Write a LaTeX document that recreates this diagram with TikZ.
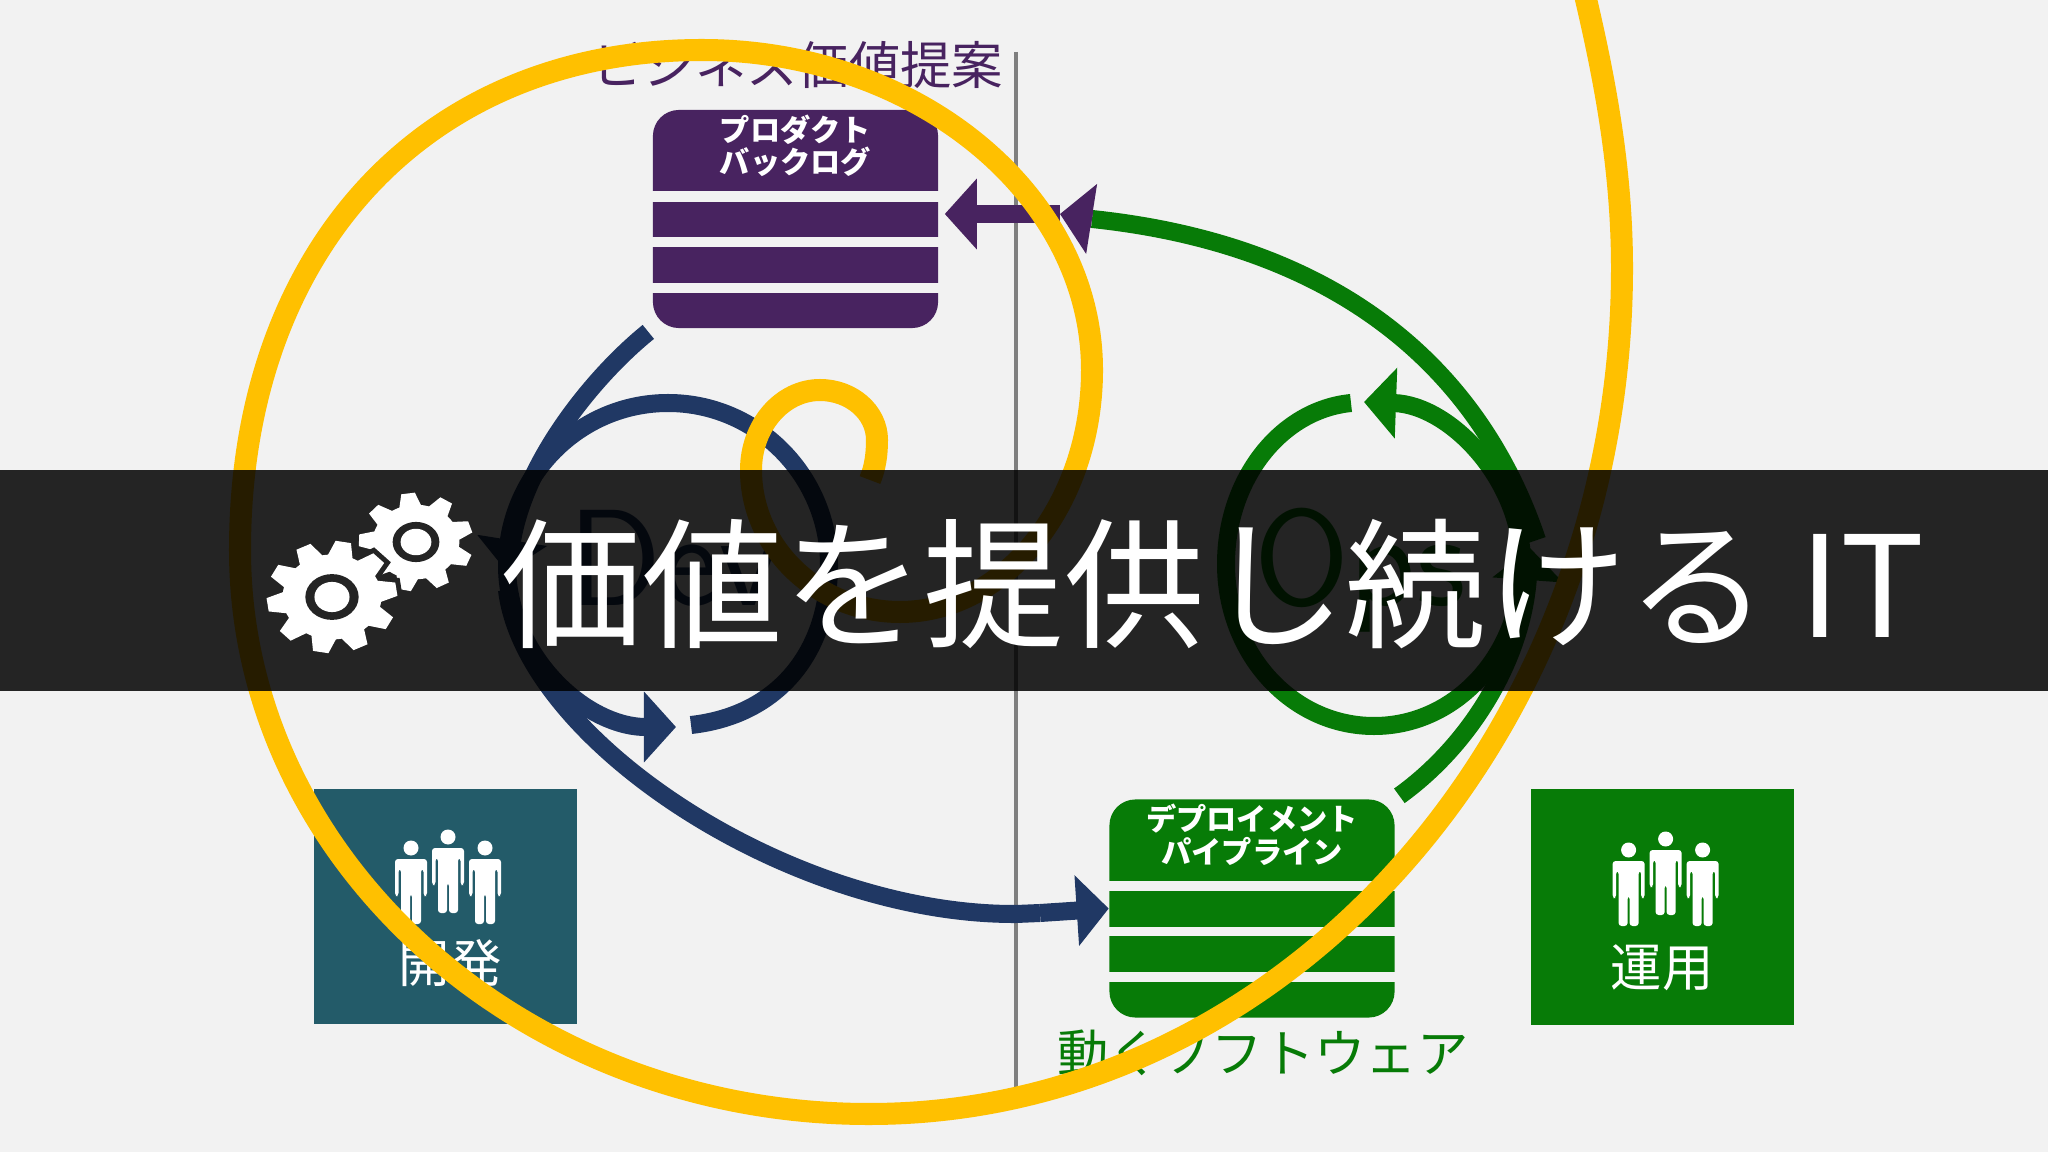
\documentclass[tikz,border=0pt]{standalone}
\usepackage{fontspec}
\setmainfont{Noto Sans CJK JP}
\usetikzlibrary{positioning}
\usetikzlibrary{arrows.meta}
\definecolor{canvasgray}{HTML}{F2F2F2}
\definecolor{bandgray}{HTML}{242424}
\definecolor{axisgray}{HTML}{7F7F7F}
\definecolor{valuepurple}{HTML}{482360}
\definecolor{devnavy}{HTML}{203864}
\definecolor{opsgreen}{HTML}{077B07}
\definecolor{devteal}{HTML}{235B69}
\definecolor{spiralyellow}{HTML}{FFC000}
\tikzset{
    x=0.01cm,
    y=-0.01cm,
    stackbox/.style={
        rectangle,
        rounded corners=0.26cm,
        minimum width=2.85cm,
        minimum height=2.18cm,
        inner sep=0pt
    },
    teambox/.style={
        rectangle,
        minimum width=2.63cm,
        minimum height=2.35cm,
        inner sep=0pt
    },
    stacktitle/.style={
        text=white,
        align=center,
        inner sep=0pt,
        font=\fontsize{8.6}{9.2}\selectfont\bfseries
    },
    biglabel/.style={
        inner sep=0pt,
        font=\fontsize{14.6}{16}\selectfont
    },
    hiddenword/.style={
        inner sep=0pt,
        anchor=base west,
        font=\fontsize{39}{42}\selectfont\sffamily
    },
    flow/.style={
        line width=0.18cm
    },
    flowhead/.style={
        flow,
        -{Triangle[length=0.32cm,width=0.69cm]}
    },
    pics/staff/.style={
        code={
            \fill[white] (0,0) circle (7.5);
            \fill[white, rounded corners=0.03cm] (-16,11) -- (16,11) -- (16,48) -- (12.5,48) -- (12.5,21)
                -- (10,21) -- (10,76) -- (1,76) -- (1,46) -- (-1,46) -- (-1,76) -- (-10,76) -- (-10,21)
                -- (-12.5,21) -- (-12.5,48) -- (-16,48) -- cycle;
        }
    }
}
\newcommand{\cogshape}[5]{
    \begin{scope}[shift={#1}, yscale=0.86, rotate=#4]
        \foreach \toothno in {1,...,#3} {
            \path[#5, rotate=\toothno*360/#3] (-0.2*#2,-0.7*#2) -- (-0.12*#2,-#2) -- (0.12*#2,-#2)
                -- (0.2*#2,-0.7*#2) -- cycle;
        }
        \path[#5] (0,0) circle (0.76*#2);
    \end{scope}
}
\newcommand{\cogwheel}[4]{
    \cogshape{#1}{#2}{#3}{#4}{draw=bandgray, line width=0.1cm}
    \cogshape{#1}{#2}{#3}{#4}{fill=white}
    \begin{scope}[shift={#1}, yscale=0.86]
        \fill[bandgray] (0,0) circle (0.41*#2);
        \fill[white] (0,0) circle (0.27*#2);
    \end{scope}
}

\begin{document}
\begin{tikzpicture}
    \path[use as bounding box, clip] (0,0) rectangle (2048,1152);
    \fill[canvasgray] (0,0) rectangle (2048,1152);

    \coordinate (axistop) at (1016,52);
    \coordinate (axisbottom) at (1016,1090);
    \draw[axisgray, line width=0.035cm] (axistop) -- (axisbottom);

    \node[stackbox, fill=valuepurple] (backlog) at (795.5,219) {};
    \node[stackbox, fill=opsgreen] (pipeline) at (1252,908.5) {};
    \foreach \gaptop/\gapbottom in {191/202,237/247,283/293} {
        \fill[canvasgray] (650,\gaptop) rectangle (941,\gapbottom);
    }
    \foreach \gaptop/\gapbottom in {881/891,927/936,972/982} {
        \fill[canvasgray] (1107,\gaptop) rectangle (1397,\gapbottom);
    }
    \node[stacktitle, below=0.05cm of backlog.north] (backlogtitle) {プロダクト\\バックログ};
    \node[stacktitle, below=0.05cm of pipeline.north] (pipelinetitle) {デプロイメント\\パイプライン};
    \node[biglabel, text=valuepurple, anchor=east] (valuelabel) at (1004,65) {ビジネス価値提案};
    \node[biglabel, text=opsgreen] (softwarelabel) at (1263,1053) {動くソフトウェア};

    \node[teambox, fill=devteal] (devteam) at (445.5,906.5) {};
    \node[teambox, fill=opsgreen] (opsteam) at (1662.5,907) {};
    \foreach \px/\py in {-37/11,0/0,37/11} {
        \pic at (448+\px,837+\py) {staff};
        \pic at (1665.6+\px,839+\py) {staff};
    }
    \node[biglabel, text=white] (devlabel) at (450,963) {開発};
    \node[biglabel, text=white] (opslabel) at (1662,968) {運用};

    \node[hiddenword, text=devnavy] (devword) at (568,605) {Dev};
    \node[hiddenword, text=opsgreen] (opsword) at (1254,605) {Ops};

    \coordinate (devin) at (507,572);
    \coordinate (devout) at (507,590);
    \coordinate (devtail) at (691,725);
    \coordinate (devtip) at (676,727);
    \coordinate (opsin) at (1530,548);
    \coordinate (opsout) at (1537,540);
    \coordinate (opstail) at (1351,403);
    \coordinate (opstip) at (1364,402);
    \coordinate (returnend) at (1092,219);
    \coordinate (valuetip) at (1060,214);

    \draw[flowhead, devnavy, shorten <=0.05cm] (backlog.south west) .. controls (595,375) and (525,460) .. (devin);
    \draw[flow, devnavy] (devout) .. controls (525,740) and (790,915) .. (1016,914) -- (1040,913);
    \draw[flowhead, devnavy] (1040,913) -- (pipeline.west);
    \draw[flowhead, devnavy] (devtail) .. controls (780,715) and (829,650) .. (829,565)
        .. controls (829,476) and (757,403) .. (668,403)
        .. controls (579,403) and (507,476) .. (507,565)
        .. controls (507,655) and (585,727) .. (devtip);

    \draw[flowhead, opsgreen, shorten <=0.05cm] (pipeline.north east) .. controls (1470,745) and (1522,660) .. (opsin);
    \draw[flow, opsgreen] (opsout) .. controls (1480,370) and (1340,245) .. (returnend);
    \draw[flowhead, opsgreen] (opstail) .. controls (1280,410) and (1226,480) .. (1226,564)
        .. controls (1226,654) and (1292,726) .. (1374,726)
        .. controls (1456,726) and (1522,654) .. (1522,564)
        .. controls (1522,480) and (1450,405) .. (opstip);

    \draw[flowhead, valuepurple] (returnend) -- (valuetip);
    \draw[flowhead, valuepurple, shorten >=0.06cm] (valuetip) -- (backlog.east |- valuetip);

    \coordinate (spiralend) at (870,480);
    \draw[spiralyellow, line width=0.22cm] (spiralend) .. controls (875,468) and (877,455) .. (877,440)
        .. controls (877,412) and (851,390) .. (820,390)
        .. controls (782,390) and (751,426) .. (751,470)
        .. controls (751,548) and (818,612) .. (900,612)
        .. controls (1006,612) and (1092,503) .. (1092,370)
        .. controls (1092,194) and (916,50) .. (702,50)
        .. controls (425,50) and (240,250) .. (240,550)
        .. controls (240,860) and (523,1114) .. (869,1114)
        .. controls (1285,1114) and (1622,733) .. (1622,268)
        .. controls (1622,170) and (1605,80) .. (1585,-5);

    \fill[black, opacity=0.85] (0,470) rectangle (2048,691);
    \cogwheel{(416,542)}{57}{9}{8}
    \cogwheel{(332,597)}{65}{10}{-10}
    \node[inner sep=0pt, text=white, font=\fontsize{40}{44}\selectfont, anchor=west] (headline) at (501,584) {価値を提供し続ける IT};
\end{tikzpicture}
\end{document}
